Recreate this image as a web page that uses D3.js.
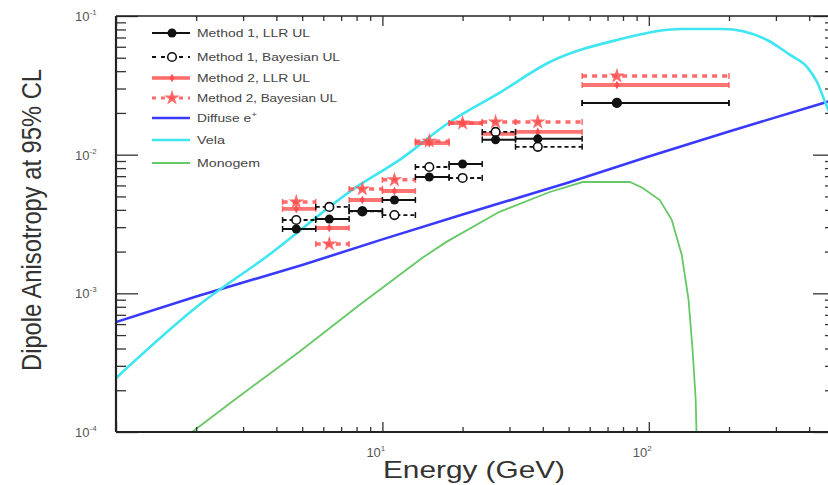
<!DOCTYPE html>
<html><head><meta charset="utf-8">
<script src="https://cdn.jsdelivr.net/npm/d3@7"></script>
<style>html,body{margin:0;padding:0;background:#fff;}svg{display:block;font-family:"Liberation Sans",Arial,sans-serif;}</style>
</head><body><svg id="c" width="828" height="485"></svg>
<script>
// ---- data ----
const binLow  = [4.22, 5.62, 7.5, 10, 13.3, 17.8, 23.7, 31.6, 56.2];
const binHigh = [5.62, 7.5, 10, 13.3, 17.8, 23.7, 31.6, 56.2, 200];
const energies = [4.75, 6.32, 8.41, 11.1, 15.0, 20.0, 26.6, 38.3, 75.9];
const m1LLR   = [2.91e-3, 3.43e-3, 3.93e-3, 4.71e-3, 6.90e-3, 8.57e-3, 1.28e-2, 1.30e-2, 2.36e-2];
const m1Bayes = [3.38e-3, 4.20e-3, 3.90e-3, 3.67e-3, 8.15e-3, 6.79e-3, 1.46e-2, 1.14e-2, 2.36e-2];
const m2LLR   = [4.06e-3, 2.96e-3, 4.71e-3, 5.47e-3, 1.21e-2, 1.69e-2, 1.41e-2, 1.46e-2, 3.18e-2];
const m2Bayes = [4.56e-3, 2.27e-3, 5.66e-3, 6.58e-3, 1.25e-2, 1.69e-2, 1.72e-2, 1.72e-2, 3.69e-2];

const diffuseE = [1, 2, 5, 10, 20, 50, 100, 200, 500];
const diffuseV = [6.2e-4, 9.5e-4, 1.6e-3, 2.45e-3, 3.7e-3, 6.3e-3, 9.7e-3, 1.47e-2, 2.5e-2];

const velaE = [1.0, 2.05, 3.66, 8.2, 11.6, 17.9, 27.5, 42.5, 75.9, 134, 190, 278, 339, 393, 428, 459, 500];
const velaV = [2.45e-4, 8.24e-4, 1.83e-3, 6.05e-3, 9.17e-3, 1.72e-2, 2.79e-2, 4.66e-2, 6.71e-2, 8.05e-2, 8.05e-2, 6.71e-2, 5.24e-2, 4.28e-2, 3.34e-2, 2.40e-2, 1.6e-2];

const monoE = [1.93, 2.78, 4.88, 8.2, 14.1, 17.4, 27.5, 42.5, 56.5, 84.9, 94.9, 110, 122, 133, 141, 146, 150, 151];
const monoV = [1e-4, 1.70e-4, 3.79e-4, 8.24e-4, 1.80e-3, 2.35e-3, 3.87e-3, 5.38e-3, 6.35e-3, 6.35e-3, 5.75e-3, 4.71e-3, 3.38e-3, 1.89e-3, 8.96e-4, 3.91e-4, 1.70e-4, 1e-4];

const legendLabels = ["Method 1, LLR UL", "Method 1, Bayesian UL", "Method 2, LLR UL", "Method 2, Bayesian UL", "Diffuse e", "Vela", "Monogem"];
const xTickLabels = [{v:10, e:"1"}, {v:100, e:"2"}];
const yTickLabels = [{v:1e-1, e:"-1"}, {v:1e-2, e:"-2"}, {v:1e-3, e:"-3"}, {v:1e-4, e:"-4"}];

// ---- drawing ----
const svg = d3.select("#c");
const x = d3.scaleLog().domain([1, 500]).range([116, 835]);
const y = d3.scaleLog().domain([1e-4, 1e-1]).range([432, 16]);
const X0 = 116, X1 = 835, Y0 = 432, Y1 = 16;

const RED = "#ff5050", BLACK = "#111", BLUE = "#3a3aff", CYAN = "#3fe6f2", GREEN = "#66c866";

svg.append("defs").append("clipPath").attr("id","pc").append("rect")
  .attr("x", X0).attr("y", Y1).attr("width", X1-X0).attr("height", Y0-Y1);

// curves
const line = d3.line().x(d => x(d[0])).y(d => y(d[1]));
const curves = svg.append("g").attr("clip-path","url(#pc)");
curves.append("path").datum(diffuseE.map((e,i)=>[e,diffuseV[i]])).attr("d", line)
  .attr("fill","none").attr("stroke",BLUE).attr("stroke-width",2.6);
curves.append("path").datum(velaE.map((e,i)=>[e,velaV[i]])).attr("d", d3.line().curve(d3.curveMonotoneX).x(d=>x(d[0])).y(d=>y(d[1])))
  .attr("fill","none").attr("stroke",CYAN).attr("stroke-width",2.6);
curves.append("path").datum(monoE.map((e,i)=>[e,monoV[i]])).attr("d", line)
  .attr("fill","none").attr("stroke",GREEN).attr("stroke-width",1.8);

// data series
const star = d3.symbol().type(d3.symbolStar).size(75);
const diamond = d3.symbol().type(d3.symbolDiamond).size(22);
function series(vals, opt) {
  const g = svg.append("g");
  vals.forEach((v, i) => {
    const yy = y(v), xa = x(binLow[i]), xb = x(binHigh[i]);
    g.append("line").attr("x1", xa).attr("x2", xb).attr("y1", yy).attr("y2", yy)
      .attr("stroke", opt.color).attr("stroke-width", opt.width).attr("stroke-opacity", opt.op || 1)
      .attr("stroke-dasharray", opt.dash || null);
    [xa, xb].forEach(xc => g.append("line").attr("x1", xc).attr("x2", xc).attr("y1", yy-3).attr("y2", yy+3)
      .attr("stroke", opt.color).attr("stroke-width", 1.5).attr("stroke-opacity", opt.op || 1));
    const cx = x(energies[i]);
    if (opt.marker === "fcircle") g.append("circle").attr("cx",cx).attr("cy",yy).attr("r",4.5).attr("fill",opt.color);
    if (opt.marker === "ocircle") g.append("circle").attr("cx",cx).attr("cy",yy).attr("r",4.3).attr("fill","#fff").attr("stroke",opt.color).attr("stroke-width",1.6);
    if (opt.marker === "star") g.append("path").attr("d", star()).attr("transform",`translate(${cx},${yy})`).attr("fill",opt.color).attr("fill-opacity",opt.op||1);
    if (opt.marker === "diamond") g.append("path").attr("d", diamond()).attr("transform",`translate(${cx},${yy})`).attr("fill",opt.color);
  });
}
series(m2Bayes, {color: RED, width: 3.5, dash: "5,5", marker: "star", op: 0.85});
series(m2LLR,   {color: RED, width: 3.8, marker: "diamond", op: 0.8});
series(m1Bayes, {color: BLACK, width: 1.8, dash: "4,3", marker: "ocircle"});
series(m1LLR,   {color: BLACK, width: 2.0, marker: "fcircle"});

// axes (ticks inside frame)
const minorX = x.ticks().filter(v => ![1,10,100].includes(v));
const majorX = [1, 10, 100];
const minorY = y.ticks().filter(v => ![1e-4,1e-3,1e-2,1e-1].some(m => Math.abs(v/m-1) < 1e-6));
const majorY = [1e-4, 1e-3, 1e-2, 1e-1];
function ax(axisFn, scale, vals, size, tr) {
  const g = svg.append("g").attr("transform", tr).call(axisFn(scale).tickValues(vals).tickSize(size).tickFormat(""));
  g.select(".domain").remove();
  g.selectAll("line").attr("stroke","#333").attr("stroke-width",1.3);
}
ax(d3.axisBottom, x, minorX, -5, `translate(0,${Y0})`);
ax(d3.axisBottom, x, majorX, -10, `translate(0,${Y0})`);
ax(d3.axisTop, x, minorX, -5, `translate(0,${Y1})`);
ax(d3.axisTop, x, majorX, -10, `translate(0,${Y1})`);
ax(d3.axisLeft, y, minorY, -10, `translate(${X0},0)`);
ax(d3.axisLeft, y, majorY, -22, `translate(${X0},0)`);
ax(d3.axisRight, y, minorY, -10, `translate(${X1},0)`);
ax(d3.axisRight, y, majorY, -22, `translate(${X1},0)`);

// frame
svg.append("line").attr("x1",X0).attr("x2",X1).attr("y1",Y1).attr("y2",Y1).attr("stroke","#222").attr("stroke-width",1.6);
svg.append("line").attr("x1",X0).attr("x2",X1).attr("y1",Y0).attr("y2",Y0).attr("stroke","#222").attr("stroke-width",2.2);
svg.append("line").attr("x1",X0).attr("x2",X0).attr("y1",Y1).attr("y2",Y0).attr("stroke","#222").attr("stroke-width",2.2);
svg.append("line").attr("x1",X1).attr("x2",X1).attr("y1",Y1).attr("y2",Y0).attr("stroke","#222").attr("stroke-width",1.6);

// tick labels
xTickLabels.forEach(t => {
  const tx = svg.append("text").attr("x", x(t.v) - 16).attr("y", 457).attr("fill","#555").attr("font-size",13);
  tx.append("tspan").text("10");
  tx.append("tspan").attr("font-size",8).attr("dy",-6).text(t.e);
});
yTickLabels.forEach(t => {
  const tx = svg.append("text").attr("x", 75).attr("y", y(t.v) + 5).attr("fill","#555").attr("font-size",13);
  tx.append("tspan").text("10");
  tx.append("tspan").attr("font-size",8).attr("dy",-6).text(t.e);
});

// axis titles
svg.append("text").attr("x", 383).attr("y", 478).attr("font-size", 24).attr("fill","#333")
  .attr("textLength", 182).attr("lengthAdjust","spacingAndGlyphs").text("Energy (GeV)");
svg.append("g").attr("transform","translate(31,220) scale(1.2,1) rotate(-90)")
  .append("text").attr("text-anchor","middle").attr("dominant-baseline","central")
  .attr("font-size", 23).attr("fill","#333").attr("textLength", 302).attr("lengthAdjust","spacingAndGlyphs")
  .text("Dipole Anisotropy at 95% CL");

// legend
const legY = [33, 57, 78, 98, 118, 140, 163];
const legW = [113, 143, 113, 140, 60, 28, 63];
const lg = svg.append("g");
legendLabels.forEach((lab, i) => {
  const yy = legY[i];
  const t = lg.append("text").attr("x", 197).attr("y", yy + 4).attr("font-size", 11).attr("fill", "#444")
    .attr("textLength", legW[i]).attr("lengthAdjust","spacingAndGlyphs");
  t.append("tspan").text(lab);
  if (i === 4) t.append("tspan").attr("font-size",8).attr("dy",-5).text("+");
});
function legLine(i, color, w, dash, op) {
  lg.append("line").attr("x1",152).attr("x2",190).attr("y1",legY[i]).attr("y2",legY[i])
    .attr("stroke",color).attr("stroke-width",w).attr("stroke-dasharray",dash||null).attr("stroke-opacity",op||1);
}
legLine(0, BLACK, 2.2);
lg.append("circle").attr("cx",172).attr("cy",legY[0]).attr("r",4.5).attr("fill",BLACK);
legLine(1, BLACK, 1.8, "4,5");
lg.append("circle").attr("cx",172).attr("cy",legY[1]).attr("r",4.3).attr("fill","#fff").attr("stroke",BLACK).attr("stroke-width",1.6);
legLine(2, RED, 3.5, null, 0.85);
lg.append("path").attr("d", diamond()).attr("transform",`translate(172,${legY[2]})`).attr("fill",RED);
legLine(3, RED, 3, "4,5", 0.85);
lg.append("path").attr("d", star()).attr("transform",`translate(172,${legY[3]})`).attr("fill",RED).attr("fill-opacity",0.85);
legLine(4, BLUE, 2.6);
legLine(5, CYAN, 2.6);
legLine(6, GREEN, 1.8);
</script></body></html>
